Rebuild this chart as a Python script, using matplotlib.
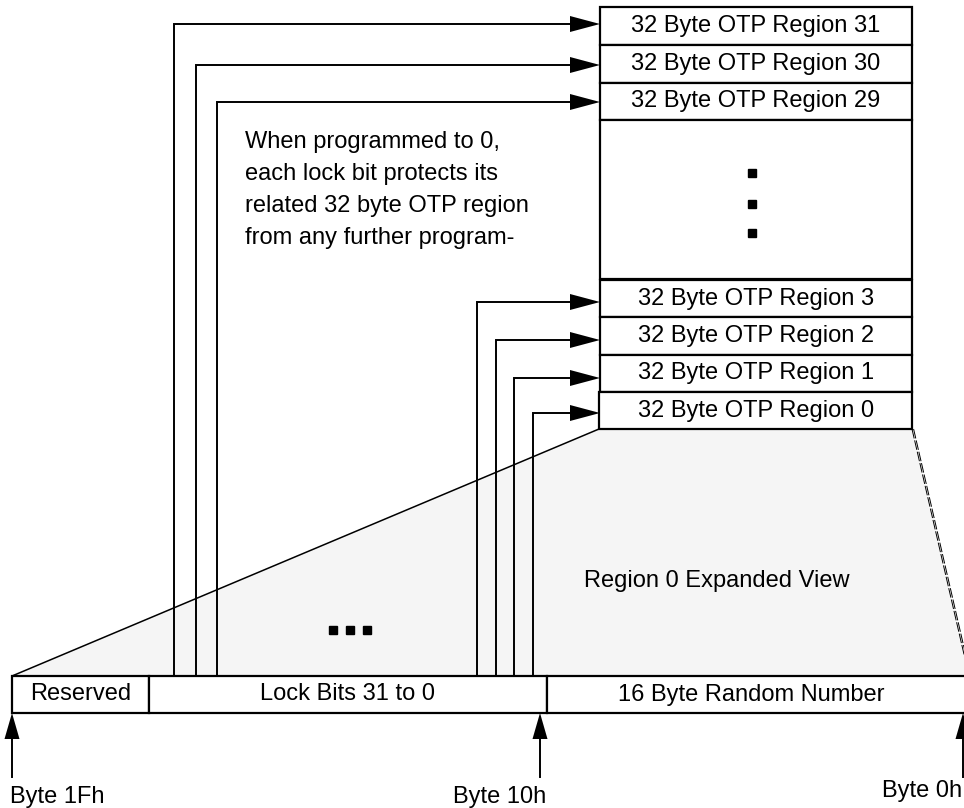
import matplotlib.pyplot as plt
from matplotlib.patches import Rectangle, Polygon

plt.rcParams['font.family'] = ['Liberation Sans', 'DejaVu Sans']

# OTP stack (top right), pixel coordinates of the drawing
stack_left, stack_right = 600, 912
top_rows = ["32 Byte OTP Region 31", "32 Byte OTP Region 30", "32 Byte OTP Region 29"]
top_row_edges = [7, 45, 83, 120]
gap_box = (120, 279)
low_rows = ["32 Byte OTP Region 3", "32 Byte OTP Region 2",
            "32 Byte OTP Region 1", "32 Byte OTP Region 0"]
low_row_edges = [280, 317, 355, 392, 429]

# lock bit arrows
top_arrow_x = [174, 196, 217]
top_arrow_y = [24, 65, 102]
low_arrow_x = [477, 496, 514, 533]
low_arrow_y = [302, 340, 378, 413]

# bottom byte layout
byte_row = (676, 713)
byte_fields = ["Reserved", "Lock Bits 31 to 0", "16 Byte Random Number"]
byte_edges = [12, 149, 547, 1000]
byte_marks = ["Byte 1Fh", "Byte 10h", "Byte 0h"]
byte_mark_x = [12, 540, 963]

note_lines = ["When programmed to 0,", "each lock bit protects its",
              "related 32 byte OTP region", "from any further program-"]
note_y = [142, 174, 206, 238]

FS = 17
LW_BOX = 1.6
LW_ARR = 1.4


def arrow_head(ax, tip, direction, length=30, half=8):
    x, y = tip
    if direction == 'right':
        pts = [(x, y), (x - length, y - half), (x - length, y + half)]
    else:  # up (y axis inverted)
        pts = [(x, y), (x - half, y + length), (x + half, y + length)]
    ax.add_patch(Polygon(pts, closed=True, color='black', lw=0, zorder=5))


fig = plt.figure(figsize=(9.64, 8.08), dpi=100)
ax = fig.add_axes([0, 0, 1, 1])
ax.set_xlim(0, 964)
ax.set_ylim(808, 0)
ax.axis('off')

# expanded view trapezoid
y0 = low_row_edges[-1]
trap = [(byte_edges[0], byte_row[0]), (stack_left - 1, y0), (stack_right, y0),
        (969, byte_row[0]), (byte_edges[0], byte_row[0])]
ax.add_patch(Polygon(trap, closed=True, facecolor='#f5f5f5', edgecolor='none', zorder=0))
ax.plot([byte_edges[0], stack_left - 1], [byte_row[0], y0], color='black', lw=1.1, zorder=1)
for dx in (0, 1.6):
    ax.plot([stack_right + dx, 969 + dx], [y0, byte_row[0]], color='black', lw=0.7,
            ls=(0, (10, 2)), zorder=1)
ax.text(717, 581, "Region 0 Expanded View", fontsize=FS, ha='center', va='center')

# stack boxes
for i, lab in enumerate(top_rows):
    a, b = top_row_edges[i], top_row_edges[i + 1]
    ax.add_patch(Rectangle((stack_left, a), stack_right - stack_left, b - a,
                           facecolor='white', edgecolor='black', lw=LW_BOX, zorder=2))
    ax.text((stack_left + stack_right) / 2, (a + b) / 2, lab, fontsize=FS,
            ha='center', va='center', zorder=3)
ax.add_patch(Rectangle((stack_left, gap_box[0]), stack_right - stack_left,
                       gap_box[1] - gap_box[0], facecolor='white', edgecolor='black',
                       lw=LW_BOX, zorder=2))
ax.plot([752] * 3, [173, 204, 233], ls='none', marker='s', ms=5.3, color='black', zorder=3)
for i, lab in enumerate(low_rows):
    a, b = low_row_edges[i], low_row_edges[i + 1]
    left = stack_left - (1 if i == len(low_rows) - 1 else 0)
    ax.add_patch(Rectangle((left, a), stack_right - left, b - a,
                           facecolor='white', edgecolor='black', lw=LW_BOX, zorder=2))
    ax.text((stack_left + stack_right) / 2, (a + b) / 2, lab, fontsize=FS,
            ha='center', va='center', zorder=3)

# lock bit arrows
for x, y in zip(top_arrow_x + low_arrow_x, top_arrow_y + low_arrow_y):
    ax.plot([x, x, stack_left - 20], [byte_row[0], y, y], color='black', lw=LW_ARR,
            solid_joinstyle='miter', zorder=4)
    arrow_head(ax, (stack_left, y), 'right')

ax.plot([333, 350, 367], [630, 630, 630], ls='none', marker='s', ms=5.5, color='black')

for line, y in zip(note_lines, note_y):
    ax.text(245, y, line, fontsize=FS, ha='left', va='center')

# byte row
for i, lab in enumerate(byte_fields):
    a, b = byte_edges[i], byte_edges[i + 1]
    ax.add_patch(Rectangle((a, byte_row[0]), b - a, byte_row[1] - byte_row[0],
                           facecolor='white', edgecolor='black', lw=LW_BOX, zorder=6))
ax.text((byte_edges[0] + byte_edges[1]) / 2, (byte_row[0] + byte_row[1]) / 2, byte_fields[0],
        fontsize=FS, ha='center', va='center', zorder=7)
ax.text((byte_edges[1] + byte_edges[2]) / 2, (byte_row[0] + byte_row[1]) / 2, byte_fields[1],
        fontsize=FS, ha='center', va='center', zorder=7)
ax.text(751, (byte_row[0] + byte_row[1]) / 2, byte_fields[2],
        fontsize=FS, ha='center', va='center', zorder=7)

# byte markers
for x in byte_mark_x:
    ax.plot([x, x], [777, byte_row[1] + 20], color='black', lw=LW_ARR)
    arrow_head(ax, (x, byte_row[1]), 'up', length=26, half=7.5)
ax.text(10, 797, byte_marks[0], fontsize=FS, ha='left', va='center')
ax.text(546, 797, byte_marks[1], fontsize=FS, ha='right', va='center')
ax.text(962, 791, byte_marks[2], fontsize=FS, ha='right', va='center')

fig.savefig('out.png', dpi=100)
